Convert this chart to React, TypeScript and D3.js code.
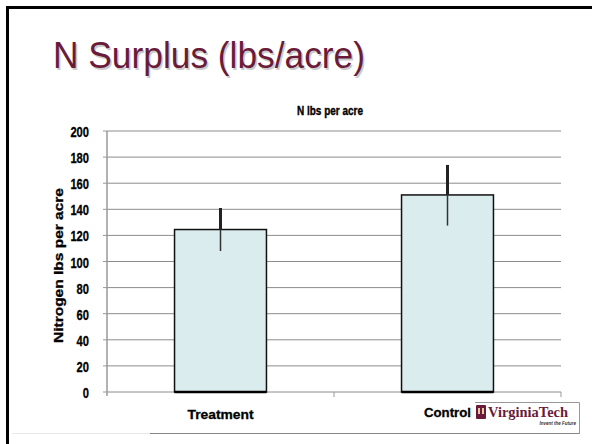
import React from "react";
import * as d3 from "d3";

const categories = ["Treatment", "Control"];
const values = [124.5, 151];
const errLow = [108, 127.5];
const errHigh = [141, 174];
const yTicks = [0, 20, 40, 60, 80, 100, 120, 140, 160, 180, 200];

const W = 592, H = 444;
const plot = { left: 107, right: 561, top: 131, bottom: 392 };

export default function App() {
  const x = d3.scaleBand<string>().domain(categories).range([plot.left, plot.right]).paddingInner(0.595).paddingOuter(0.2975);
  const y = d3.scaleLinear().domain([0, 200]).range([plot.bottom, plot.top]);
  const maroon = "#6a1b3a";
  return (
    <svg width={W} height={H} style={{ position: "absolute", left: 0, top: 0 }} fontFamily="'Liberation Sans', Arial, sans-serif">
      <rect width={W} height={H} fill="#fff" />
      {/* slide frame */}
      <line x1={6} x2={W} y1={7.5} y2={7.5} stroke="#000" strokeWidth={3} />
      <line x1={7.5} x2={7.5} y1={6} y2={H} stroke="#000" strokeWidth={3} />
      <line x1={12} x2={150} y1={433.5} y2={433.5} stroke="#e8e8e8" strokeWidth={1} />
      <line x1={150} x2={579.5} y1={433.5} y2={433.5} stroke="#888" strokeWidth={1} />
      {/* slide title */}
      <text x={53} y={68} fontSize={36} fill="#aaa" opacity={0.6} transform="translate(1.5,1.5)" textLength={312} lengthAdjust="spacingAndGlyphs">N Surplus (lbs/acre)</text>
      <text x={53} y={68} fontSize={36} fill={maroon} textLength={312} lengthAdjust="spacingAndGlyphs">N Surplus (lbs/acre)</text>
      {/* chart title */}
      <text x={330} y={114.5} fontSize={12.5} fontWeight="bold" textAnchor="middle" textLength={66} lengthAdjust="spacingAndGlyphs" stroke="#000" strokeWidth={0.4}>N lbs per acre</text>
      {/* gridlines */}
      {yTicks.map((t) => (
        <line key={t} x1={plot.left} x2={plot.right} y1={y(t)} y2={y(t)} stroke="#8c8c8c" strokeWidth={1} />
      ))}
      {/* y axis */}
      <line x1={plot.left} x2={plot.left} y1={plot.top} y2={plot.bottom + 4} stroke="#999" strokeWidth={1.5} />
      {yTicks.map((t) => (
        <g key={"t" + t}>
          <line x1={plot.left - 4} x2={plot.left} y1={y(t)} y2={y(t)} stroke="#999" />
          <text x={89} y={y(t) + 6} fontSize={14} fontWeight="bold" textAnchor="end" textLength={String(t).length * 6.2} lengthAdjust="spacingAndGlyphs" stroke="#000" strokeWidth={0.3}>{t}</text>
        </g>
      ))}
      {/* x category ticks */}
      {[plot.left + (plot.right - plot.left) / 2, plot.right].map((xx, i) => (
        <line key={"xt" + i} x1={xx} x2={xx} y1={plot.bottom} y2={plot.bottom + 5} stroke="#999" />
      ))}
      {/* y label */}
      <text transform={`translate(63,265.5) rotate(-90)`} fontSize={13} fontWeight="bold" textAnchor="middle" textLength={155} lengthAdjust="spacingAndGlyphs" stroke="#000" strokeWidth={0.3}>Nitrogen lbs per acre</text>
      {/* bars */}
      {categories.map((c, i) => {
        const bx = x(c)!;
        const bw = x.bandwidth();
        const cx = bx + bw / 2;
        return (
          <g key={c}>
            <rect x={bx} y={y(values[i])} width={bw} height={plot.bottom - y(values[i])} fill="#daeced" stroke="#111" strokeWidth={1.5} />
            <line x1={bx} x2={bx + bw} y1={plot.bottom} y2={plot.bottom} stroke="#000" strokeWidth={2.5} />
            <line x1={cx} x2={cx} y1={y(errHigh[i])} y2={y(values[i])} stroke="#222" strokeWidth={3} />
            <line x1={cx} x2={cx} y1={y(values[i])} y2={y(errLow[i])} stroke="#333" strokeWidth={1.5} />
          </g>
        );
      })}
      {/* logo box */}
      <line x1={475} x2={579.5} y1={402.5} y2={402.5} stroke="#999" />
      <line x1={579.5} x2={579.5} y1={402.5} y2={434} stroke="#999" />
      {/* category labels */}
      <text x={x("Treatment")! + x.bandwidth() / 2} y={419} fontSize={13} fontWeight="bold" textAnchor="middle" textLength={66} lengthAdjust="spacingAndGlyphs" stroke="#000" strokeWidth={0.3}>Treatment</text>
      <text x={x("Control")! + x.bandwidth() / 2} y={417} fontSize={13} fontWeight="bold" textAnchor="middle" textLength={47} lengthAdjust="spacingAndGlyphs" stroke="#000" strokeWidth={0.3}>Control</text>
      <rect x={476} y={405} width={10} height={14} fill={maroon} rx={1} />
      <rect x={478} y={408} width={2} height={6} fill="#e8c8a8" />
      <rect x={482} y={408} width={2} height={6} fill="#e8c8a8" />
      <text x={488} y={417} fontSize={15} fontWeight="bold" fontFamily="'Liberation Serif', serif" fill={maroon} textLength={80} lengthAdjust="spacingAndGlyphs">VirginiaTech</text>
      <text x={576} y={425} fontSize={4.5} fontStyle="italic" fontWeight="bold" textAnchor="end" fill="#333">Invent the Future</text>
    </svg>
  );
}
